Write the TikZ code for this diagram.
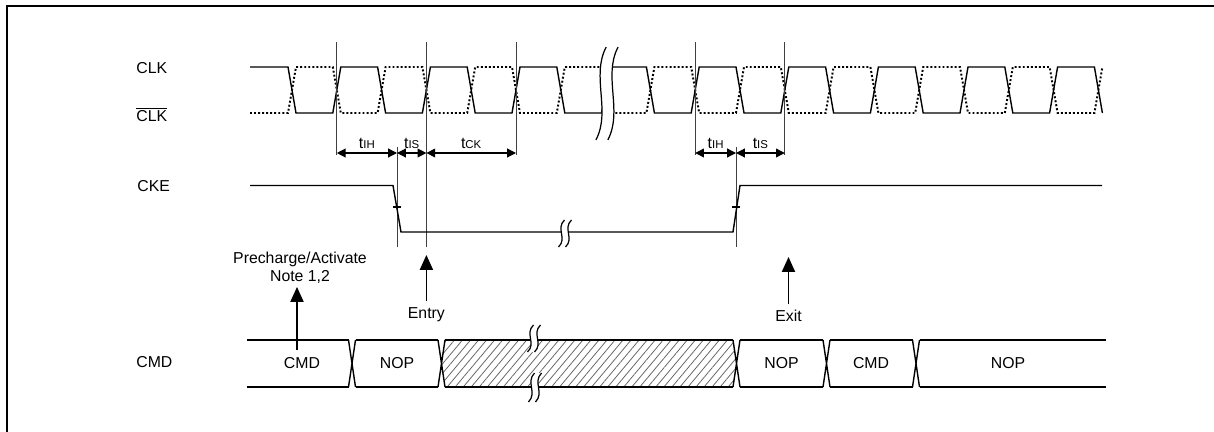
\documentclass[tikz,border=0pt]{standalone}
\usepackage{fontspec}
\setmainfont{Liberation Sans}
\usetikzlibrary{arrows.meta,patterns.meta}
\newcommand{\tsub}[1]{t{\fontsize{6.5}{7}\selectfont #1}}

\begin{document}
\begin{tikzpicture}[x=0.02cm, y=-0.02cm,
    font=\fontsize{9}{10.2}\selectfont,
    sig/.style={line width=0.8pt},
    sign/.style={line width=1.1pt, dash pattern=on 1.1pt off 1.2pt},
    refline/.style={line width=0.5pt, black!75},
    dim/.style={line width=0.7pt, <->, >={Triangle[length=5pt,width=5pt]}},
    pointer/.style={line width=0.8pt, ->, >={Triangle[length=8.5pt,width=7.5pt]}},
    siglabel/.style={anchor=base west, inner sep=0pt},
    txt/.style={anchor=base, inner sep=0pt},
    dimlabel/.style={anchor=base, inner sep=0pt, yshift=2.8pt},
    gapmark/.pic={
        \fill[white] (-0.5,-13.5) .. controls (-9.5,-5) and (2.5,5) .. (-6.5,13.5)
            -- (0.5,13.5) .. controls (9.5,5) and (-2.5,-5) .. (6.5,-13.5) -- cycle;
        \draw[line width=0.7pt] (-0.5,-13.5) .. controls (-9.5,-5) and (2.5,5) .. (-6.5,13.5);
        \draw[line width=0.7pt] (6.5,-13.5) .. controls (-2.5,-5) and (9.5,5) .. (0.5,13.5);
    }]
    \useasboundingbox (0,0) rectangle (1214,432);
    \pgfmathsetmacro{\hp}{44.8}
    \pgfmathsetmacro{\xo}{292}
    \draw[line width=1.5pt] (7,445) -- (7,6) -- (1225,6);

    \node[siglabel] (lclk) at (136,73.3) {CLK};
    \node[siglabel] (lclkn) at (136,121.7) {$\overline{\hbox{CLK}}$};
    \node[siglabel] (lcke) at (137,191.7) {CKE};
    \node[siglabel] (lcmd) at (136,367.3) {CMD};

    \draw[sig] (250,67) \foreach \k in {0,...,18} {
        -- ({\xo+\k*\hp-4},{90-23*cos(180*\k)}) -- ({\xo+\k*\hp+4},{90+23*cos(180*\k)}) };
    \draw[sign] (250,113) \foreach \k in {0,...,18} {
        -- ({\xo+\k*\hp-4},{90+23*cos(180*\k)}) -- ({\xo+\k*\hp+4},{90-23*cos(180*\k)}) };
    \pic[xscale=1.7, yscale=3.44] at (607,93.5) {gapmark};

    \foreach \x in {336.8,516,695.2,784.8}
        \draw[refline] (\x,42) -- (\x,155);
    \draw[refline] (426.4,42) -- (426.4,247);
    \draw[refline] (397,147) -- (397,247);
    \draw[refline] (736,147) -- (736,247);

    \coordinate (a1) at (336.8,153);
    \coordinate (a2) at (397,153);
    \coordinate (a3) at (426.4,153);
    \coordinate (a4) at (516,153);
    \coordinate (b1) at (695.2,153);
    \coordinate (b2) at (736,153);
    \coordinate (b3) at (784.8,153);
    \draw[dim] (a1) -- node[dimlabel] {\tsub{IH}} (a2);
    \draw[dim] (a2) -- node[dimlabel] {\tsub{IS}} (a3);
    \draw[dim] (a3) -- node[dimlabel] {\tsub{CK}} (a4);
    \draw[dim] (b1) -- node[dimlabel] {\tsub{IH}} (b2);
    \draw[dim] (b2) -- node[dimlabel] {\tsub{IS}} (b3);

    \draw[sig] (250,185.5) -- (393,185.5) -- (401,232) -- (733,232) -- (740,185.5) -- (1102,185.5);
    \draw[sig] (393,207) -- (401,207) (732,207) -- (740,207);
    \pic at (565,233.5) {gapmark};

    \fill[pattern={Lines[angle=50,distance=3.5pt,line width=0.45pt]}, pattern color=black!60]
        (445,340) -- (733,340) -- (736.5,363.5) -- (733,387) -- (445,387) -- (441.5,363.5) -- cycle;
    \foreach \c in {352,441.5,736.5,826.5,916}
        \draw[sig] (\c-3.5,340) -- (\c+3.5,387) (\c-3.5,387) -- (\c+3.5,340);
    \foreach \l/\r in {247/348.5,355.5/438,445/733,740/823,830/912.5,919.5/1106}
        \draw[sig] (\l,340) -- (\r,340) (\l,387) -- (\r,387);
    \pic at (534,338.5) {gapmark};
    \pic[yscale=1.07] at (535,387.5) {gapmark};

    \node[txt] (cmda) at (302,368) {CMD};
    \node[txt] (nopa) at (397,368) {NOP};
    \node[txt] (nopb) at (781.5,368) {NOP};
    \node[txt] (cmdb) at (871,368) {CMD};
    \node[txt] (nopc) at (1008,368) {NOP};

    \node[txt, inner sep=3pt] (entry) at (426.4,318) {Entry};
    \coordinate (entrytip) at (426.4,255);
    \draw[pointer] (entry.north) -- (entrytip);
    \node[txt, inner sep=3pt] (exit) at (788.5,321.5) {Exit};
    \coordinate (exittip) at (788.5,257);
    \draw[pointer] (exit.north) -- (exittip);
    \node[align=center, anchor=south, inner sep=0pt] (prech) at (300,284) {Precharge/Activate\\Note 1,2};
    \coordinate (pretail) at (297,350);
    \draw[pointer] (pretail) -- ([yshift=-1.7pt]prech.south -| pretail);
\end{tikzpicture}
\end{document}
